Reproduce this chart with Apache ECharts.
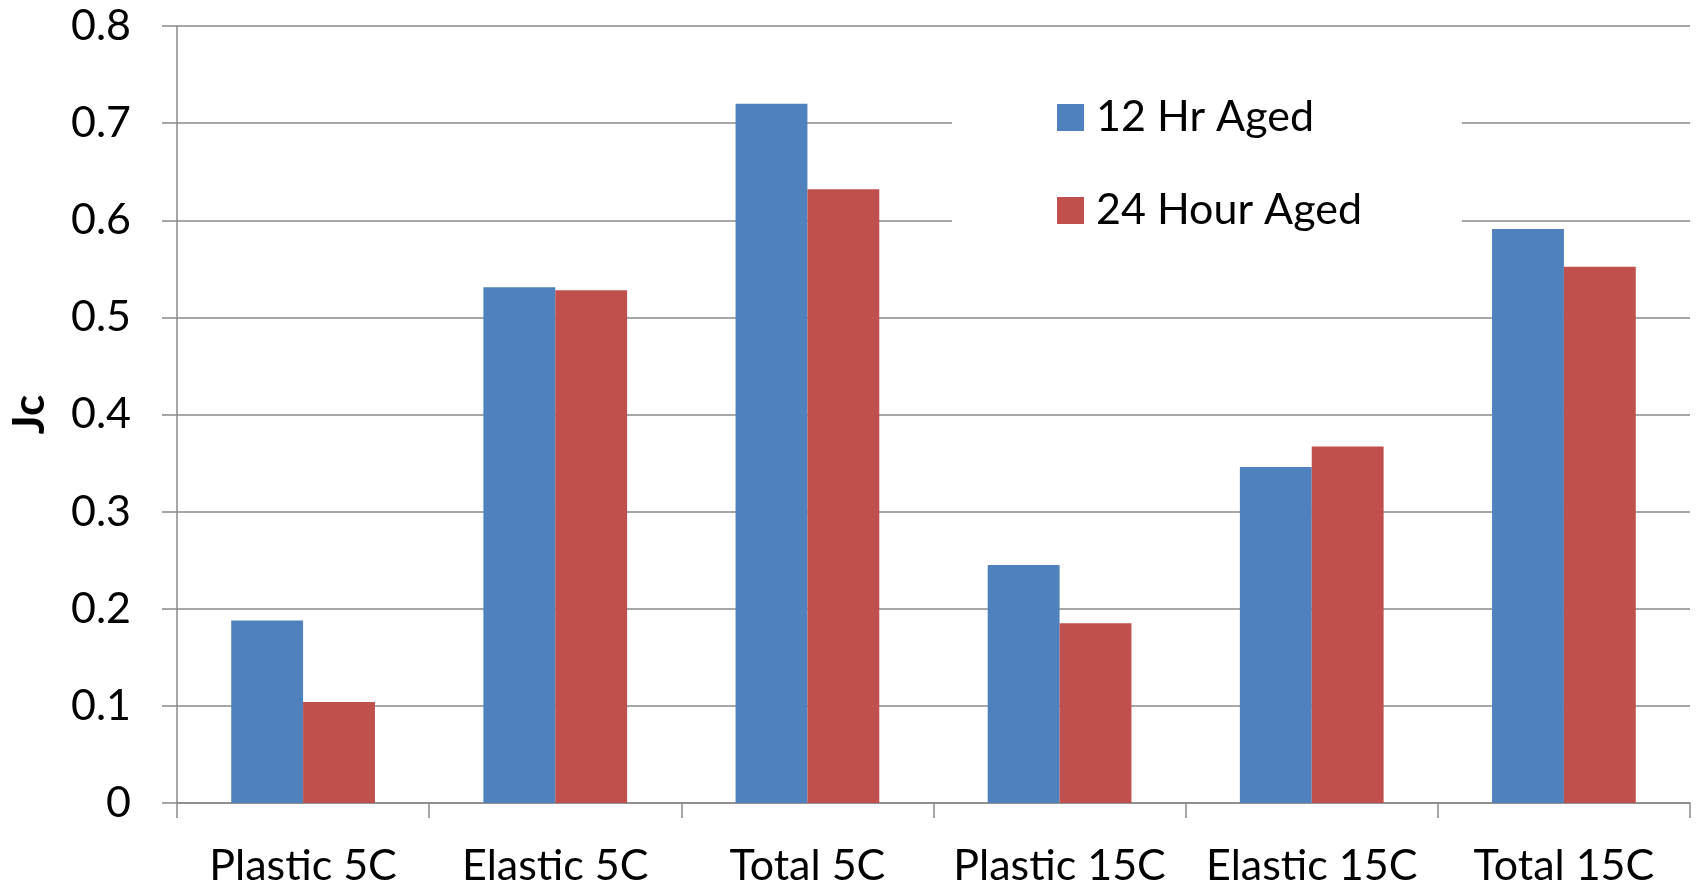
<!DOCTYPE html>
<html>
<head>
<meta charset="utf-8">
<title>Jc by aging time</title>
<script src="https://cdn.jsdelivr.net/npm/echarts@6/dist/echarts.min.js"></script>
<style>
  html, body { margin: 0; padding: 0; background: #fff; }
  #chart { width: 1700px; height: 888px; }
</style>
</head>
<body>
<div id="chart"></div>
<script>
// Test conditions along the x axis
const categories = ['Plastic 5C', 'Elastic 5C', 'Total 5C', 'Plastic 15C', 'Elastic 15C', 'Total 15C'];

// Jc values per aging duration
const aged12hr = [0.188, 0.531, 0.720, 0.245, 0.346, 0.591];
const aged24hr = [0.104, 0.528, 0.632, 0.185, 0.367, 0.552];

const seriesNames = ['12 Hr Aged', '24 Hour Aged'];
const yAxisName = 'Jc';

const FONT = 'Lato';
const FONT_SIZE = 43;
const AXIS_GREY = '#8a8a8a';

const chart = echarts.init(document.getElementById('chart'), null, { renderer: 'canvas' });

chart.setOption({
  animation: false,
  backgroundColor: '#ffffff',
  textStyle: { fontFamily: FONT, color: '#000' },
  color: ['#4F81BD', '#C0504D'],
  grid: { left: 175, right: 10, top: 26, bottom: 84, containLabel: false },
  legend: {
    orient: 'vertical',
    left: 952,
    top: 46,
    padding: [50, 100, 50, 105],
    backgroundColor: '#ffffff',
    icon: 'rect',
    itemWidth: 27,
    itemHeight: 27,
    itemGap: 50,
    textStyle: { fontFamily: FONT, fontSize: FONT_SIZE, color: '#000', lineHeight: 27, padding: [0, 0, 0, 7] },
    data: seriesNames
  },
  xAxis: {
    type: 'category',
    data: categories,
    boundaryGap: true,
    axisLine: { show: true, lineStyle: { color: AXIS_GREY, width: 1.5 } },
    axisTick: { show: true, interval: 0, length: 15, lineStyle: { color: AXIS_GREY, width: 1.5 } },
    axisLabel: { interval: 0, fontFamily: FONT, fontSize: FONT_SIZE, color: '#000', margin: 42 },
    splitLine: { show: false }
  },
  yAxis: {
    type: 'value',
    min: 0,
    max: 0.8,
    interval: 0.1,
    name: yAxisName,
    nameLocation: 'middle',
    nameRotate: 90,
    nameGap: 125,
    nameTextStyle: { fontFamily: FONT, fontSize: 44, fontWeight: 'bold', color: '#000' },
    axisLine: { show: true, lineStyle: { color: AXIS_GREY, width: 1.5 } },
    axisTick: { show: true, length: 15, lineStyle: { color: AXIS_GREY, width: 1.5 } },
    axisLabel: { fontFamily: FONT, fontSize: FONT_SIZE, color: '#000', margin: 46 },
    splitLine: { show: true, lineStyle: { color: AXIS_GREY, width: 1.5 } }
  },
  series: [
    {
      name: seriesNames[0],
      type: 'bar',
      data: aged12hr,
      barGap: '0%',
      barCategoryGap: '43%',
      itemStyle: { color: '#4F81BD' }
    },
    {
      name: seriesNames[1],
      type: 'bar',
      data: aged24hr,
      barGap: '0%',
      barCategoryGap: '43%',
      itemStyle: { color: '#C0504D' }
    }
  ]
});
</script>
</body>
</html>
